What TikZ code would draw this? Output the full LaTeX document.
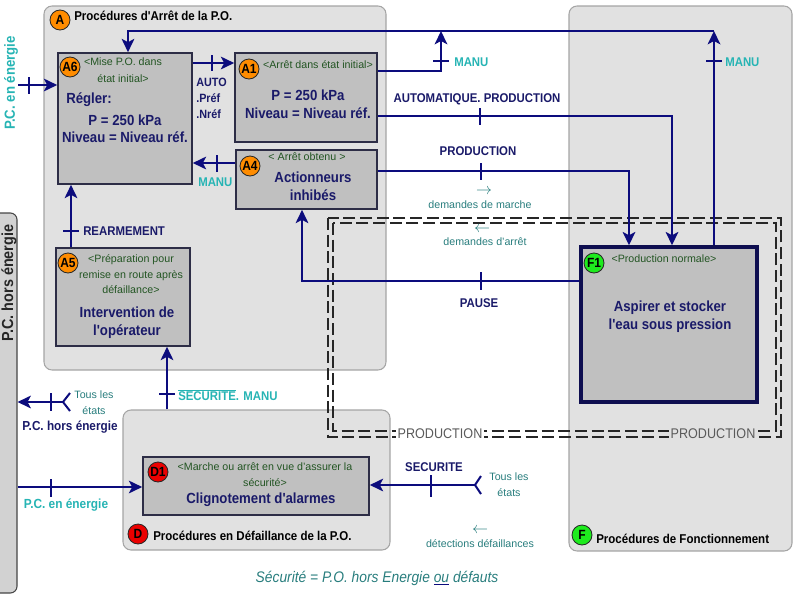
\documentclass[tikz,border=0pt]{standalone}
\usepackage{fontspec}
\setmainfont{Liberation Sans}
\newfontfamily\nf[FakeStretch=0.9]{Liberation Sans}
\usetikzlibrary{arrows.meta}
\definecolor{lineblue}{RGB}{12,12,125}
\definecolor{txtnavy}{RGB}{26,26,105}
\definecolor{tealc}{RGB}{38,180,180}
\definecolor{tealdk}{RGB}{40,125,125}
\definecolor{cmtgreen}{RGB}{35,85,35}
\definecolor{grpfill}{RGB}{225,225,225}
\definecolor{grpdraw}{RGB}{165,165,165}
\definecolor{boxfill}{RGB}{192,192,192}
\definecolor{boxdraw}{RGB}{45,45,70}
\definecolor{f1draw}{RGB}{14,14,80}
\definecolor{orange1}{RGB}{255,140,0}
\definecolor{red1}{RGB}{235,0,0}
\definecolor{green1}{RGB}{30,235,30}
\definecolor{barfill}{RGB}{210,210,210}
\definecolor{bardraw}{RGB}{70,70,70}
\definecolor{prodgray}{RGB}{90,90,90}
\begin{document}
\begin{tikzpicture}[x=0.75pt,y=-0.75pt,
 grp/.style={draw=grpdraw, fill=grpfill, line width=0.8pt, rounded corners=6pt, inner sep=0pt},
 stepbox/.style={draw=boxdraw, fill=boxfill, line width=1.2pt, inner sep=0pt},
 num/.style={circle, draw=black!85, line width=0.6pt, minimum size=15pt, inner sep=0pt, font=\nf\bfseries\fontsize{10}{10}\selectfont},
 big/.style={font=\nf\bfseries\fontsize{11}{13.5}\selectfont, text=txtnavy, align=center, inner sep=0pt},
 cmt/.style={font=\fontsize{8}{12}\selectfont, text=cmtgreen, align=center, inner sep=0pt},
 lbl/.style={font=\nf\bfseries\fontsize{9.5}{11}\selectfont, text=txtnavy, inner sep=0pt},
 manu/.style={font=\nf\bfseries\fontsize{9.5}{11}\selectfont, text=tealc, inner sep=0pt},
 smalltxt/.style={font=\fontsize{8}{12}\selectfont, text=tealdk, align=center, inner sep=0pt},
 ttl/.style={font=\nf\bfseries\fontsize{9.6}{11}\selectfont, text=black, inner sep=0pt, anchor=west},
 conn/.style={draw=lineblue, line width=1.5pt},
 arr/.style={conn, -{Stealth[length=10pt,width=9.5pt,inset=2.5pt]}},
 tk/.style={draw=lineblue, line width=1.5pt},
 dashrect/.style={draw=black!85, line width=0.8pt, dash pattern=on 9pt off 3.5pt},
 prod/.style={font=\nf\fontsize{10.5}{12}\selectfont, text=prodgray, inner sep=1.5pt},
]
\useasboundingbox (0,0) rectangle (800,600);

% left bar
\node[draw=bardraw, fill=barfill, line width=0.8pt, rounded corners=5pt, minimum width=18.75pt, minimum height=285pt, inner sep=0pt] (bar) at (4.5,403) {};
\node[rotate=90, font=\nf\bfseries\fontsize{12}{13}\selectfont, text=black!85, inner sep=0pt] (barlbl) at (9,283) {P.C. hors énergie};

% groups
\node[grp, minimum width=256.5pt, minimum height=273pt] (Ag) at (215,188) {};
\node[grp, minimum width=167.25pt, minimum height=408.75pt] (Fg) at (680.5,278.5) {};
\node[grp, minimum width=200.25pt, minimum height=105pt] (Dg) at (256.5,480) {};

\node[num, fill=orange1] (nA) at (60,20) {A};
\node[ttl] (tA) at (74,16) {Procédures d'Arrêt de la P.O.};
\node[num, fill=red1] (nD) at (138,534) {D};
\node[ttl] (tD) at (153,536) {Procédures en Défaillance de la P.O.};
\node[num, fill=green1] (nF) at (582,535) {F};
\node[ttl] (tF) at (596,539) {Procédures de Fonctionnement};

% dashed double frame
\draw[dashrect] (328,218) rectangle (781,437);
\draw[dashrect] (333,223) rectangle (776,431);
\node[prod, fill=white] (prod1) at (440,434) {PRODUCTION};
\node[prod, fill=grpfill] (prod2) at (713,434) {PRODUCTION};

% step boxes
\node[stepbox, minimum width=100.5pt, minimum height=98.25pt] (A6) at (125,118.5) {};
\node[stepbox, minimum width=106.5pt, minimum height=66.75pt] (A1) at (306,97.5) {};
\node[stepbox, minimum width=105.75pt, minimum height=44.25pt] (A4) at (306.5,179.5) {};
\node[stepbox, minimum width=100.5pt, minimum height=73.5pt] (A5) at (123,297) {};
\node[stepbox, minimum width=169.5pt, minimum height=43.5pt] (D1) at (256,486) {};
\node[stepbox, draw=f1draw, line width=2.6pt, minimum width=132pt, minimum height=116.25pt] (F1) at (669,324.5) {};

% step numbers
\node[num, fill=orange1] (nA6) at (70,67) {A6};
\node[num, fill=orange1] (nA1) at (249,69) {A1};
\node[num, fill=orange1] (nA4) at (250,166) {A4};
\node[num, fill=orange1] (nA5) at (68,263) {A5};
\node[num, fill=red1] (nD1) at (158,472) {D1};
\node[num, fill=green1] (nF1) at (594,263) {F1};

% step texts
\node[cmt, font=\fontsize{8}{12.75}\selectfont] (cA6) at (123,70.5) {<Mise P.O. dans\\état initial>};
\node[big, anchor=west] (rA6) at (66,100) {Régler:};
\node[big, font=\nf\bfseries\fontsize{11}{12.75}\selectfont] (bA6) at (125,128.5) {P = 250 kPa\\Niveau = Niveau réf.};
\node[cmt] (cA1) at (318,65) {<Arrêt dans état initial>};
\node[big] (bA1) at (308,104) {P = 250 kPa\\Niveau = Niveau réf.};
\node[cmt] (cA4) at (307,157) {< Arrêt obtenu >};
\node[big] (bA4) at (313,186) {Actionneurs\\inhibés};
\node[cmt, font=\fontsize{8}{11.6}\selectfont] (cA5) at (131,274.5) {<Préparation pour\\remise en route après\\défaillance>};
\node[big] (bA5) at (127,323) {Intervention de\\l'opérateur};
\node[cmt] (cD1) at (265,475) {<Marche ou arrêt en vue d'assurer la\\sécurité>};
\node[big] (bD1) at (261,500) {Clignotement d'alarmes};
\node[cmt] (cF1) at (664,259) {<Production normale>};
\node[big] (bF1) at (670,317) {Aspirer et stocker\\l'eau sous pression};

% connectors: MANU returns to A6
\coordinate (jA1) at (441,31);
\coordinate (jF) at (714,31);
\coordinate (jA6) at (128,31);
\draw[arr] (A1.east |- 0,71) -- (441,71) -- (jA1);
\draw[arr] (F1.north -| jF) -- (jF);
\draw[arr] (jF) -- (jA6) -- (A6.north -| jA6);
\draw[tk] (433,61) -- (449,61);
\draw[tk] (706,61) -- (722,61);
\node[manu, anchor=west] (m1) at (454,62) {MANU};
\node[manu, anchor=west] (m2) at (725,62) {MANU};

% A6 -> A1
\draw[arr] (A6.east |- 0,63) -- (A1.west |- 0,63);
\draw[tk] (212,55) -- (212,71);
\node[lbl, anchor=west, align=left, font=\nf\bfseries\fontsize{9}{12}\selectfont] (auto) at (196,98) {AUTO\\.Préf\\.Nréf};

% A4 -> A6
\draw[arr] (A4.west |- 0,163) -- (A6.east |- 0,163);
\draw[tk] (217,155) -- (217,172);
\node[manu, anchor=west] (m3) at (198,182) {MANU};

% A1 -> F1
\draw[arr] (A1.east |- 0,116) -- (672,116) -- (F1.north -| 672,0);
\draw[tk] (480,108) -- (480,125);
\node[lbl] (autoprod) at (477,99) {AUTOMATIQUE. PRODUCTION};

% A4 -> F1
\draw[arr] (A4.east |- 0,171) -- (629,171) -- (F1.north -| 629,0);
\draw[tk] (481,163) -- (481,180);
\node[lbl] (prodl) at (478,151) {PRODUCTION};

% F1 -> A4
\draw[arr] (F1.west |- 0,281) -- (302,281) -- (A4.south -| 302,0);
\draw[tk] (481,272) -- (481,290);
\node[lbl] (pause) at (479,303) {PAUSE};

\node[text=tealdk, font=\fontsize{12}{12}\selectfont, inner sep=0pt] (ar1) at (484,192) {$\rightarrow$};
\node[smalltxt] (dm) at (480,205) {demandes de marche};
\node[text=tealdk, font=\fontsize{12}{12}\selectfont, inner sep=0pt] (ar2) at (482,230) {$\leftarrow$};
\node[smalltxt] (da) at (485,242) {demandes d'arrêt};

% A5 -> A6
\draw[arr] (A5.north -| 71,0) -- (A6.south -| 71,0);
\draw[tk] (63,231) -- (79,231);
\node[lbl, anchor=west] (rearm) at (83,231) {REARMEMENT};

% D -> A5
\draw[arr] (Dg.north -| 167,0) -- (A5.south -| 167,0);
\draw[tk] (159,394) -- (175,394);
\node[manu, anchor=west] (secmanu) at (178,395) {$\overline{\mbox{SECURITE}}$. MANU};

% all states -> P.C. hors energie
\coordinate (fkL) at (63,402);
\draw[conn] (70,393) -- (fkL) -- (70,411);
\draw[arr] (fkL) -- (bar.east |- fkL);
\draw[tk] (51,393) -- (51,411);
\node[smalltxt] (tl1) at (94,403) {Tous les\\états};
\node[lbl, font=\nf\bfseries\fontsize{9.8}{11}\selectfont] (pcho) at (70,427) {P.C. hors énergie};

% P.C. en energie -> D1
\draw[arr] (bar.east |- 0,487) -- (D1.west |- 0,487);
\draw[tk] (51,479) -- (51,497);
\node[manu, font=\nf\bfseries\fontsize{9.9}{11}\selectfont] (pcen) at (66,505) {P.C. en énergie};

% top-left P.C. en energie -> A6
\coordinate (pcin) at (18,85);
\draw[arr] (pcin) -- (A6.west |- pcin);
\draw[tk] (29,77) -- (29,94);
\node[manu, rotate=90, font=\nf\bfseries\fontsize{11}{12}\selectfont] (pcen2) at (11,83) {P.C. en énergie};

% SECURITE -> D1
\coordinate (fkR) at (475,485);
\draw[conn] (481,476) -- (fkR) -- (481,494);
\draw[arr] (fkR) -- (D1.east |- fkR);
\draw[tk] (431,475) -- (431,497);
\node[lbl] (secu) at (434,467) {SECURITE};
\node[smalltxt] (tl2) at (509,485) {Tous les\\états};
\node[text=tealdk, font=\fontsize{12}{12}\selectfont, inner sep=0pt] (ar3) at (480,531) {$\leftarrow$};
\node[smalltxt] (dd) at (480,544) {détections défaillances};

% bottom formula
\node[font=\nf\itshape\fontsize{11.5}{13}\selectfont, text=tealdk, inner sep=0pt] (formula) at (377,578) {Sécurité = P.O. hors Energie {\color{lineblue}\underline{\color{tealdk}ou}} défauts};
\end{tikzpicture}
\end{document}
